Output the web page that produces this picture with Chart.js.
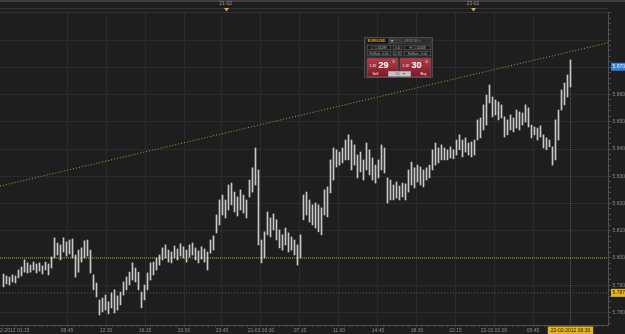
<!DOCTYPE html>
<html><head><meta charset="utf-8">
<script src="https://cdn.jsdelivr.net/npm/chart.js@4/dist/chart.umd.min.js"></script>
<style>
html,body{margin:0;padding:0;background:#1e1e1e;overflow:hidden}
#wrap{position:relative;width:625px;height:334px}
#c{position:absolute;left:0;top:0}
.w{position:absolute;left:364px;top:37px;width:138px;height:82px;transform:scale(0.5);transform-origin:0 0;background:#2a2a2a;border:2px solid #4a4a4a;box-sizing:border-box;font-family:"Liberation Sans",Arial,sans-serif;color:#bbb}
.w div{position:absolute;box-sizing:border-box;white-space:nowrap}
.hd{left:0;top:0;width:134px;height:12px;background:#3a3a3a}
.pair{left:2px;top:1px;width:44px;height:10px;background:#111;color:#e0a820;font-weight:bold;font-size:8px;line-height:10px;padding-left:3px}
.arr{left:48px;top:1px;width:10px;height:10px;background:#444;color:#ccc;font-size:7px;line-height:10px;text-align:center}
.tm{left:76px;top:1px;width:56px;height:10px;background:#2e2e2e;color:#999;font-size:7px;line-height:10px;padding-left:3px}
.cell{height:10px;border:1px solid #666;background:#1c1c1c;font-size:6.5px;line-height:8px;text-align:center;color:#bbb}
.btn{top:40px;height:38px;background:linear-gradient(#b33b49,#7a1a26);border:1px solid #c86a78;border-radius:2px;color:#fff}
.sm{font-size:7px}
.big{font-size:18px;font-weight:bold;line-height:18px}
.sup{font-size:8px}
.dd{left:46px;top:66px;width:46px;height:11px;background:#c4c4c4;border:1px solid #888;color:#555;font-size:7px;line-height:9px;padding-left:14px}
</style></head>
<body><div id="wrap"><canvas id="c" width="625" height="334"></canvas>
<div class="w">
 <div class="hd"></div>
 <div class="pair">EUR/USD</div>
 <div class="arr">▾</div>
 <div class="tm">09:37:40 ×</div>
 <div class="cell" style="left:4px;top:14px;width:48px">L: 1.30199</div>
 <div class="cell" style="left:56px;top:14px;width:18px">0.6</div>
 <div class="cell" style="left:78px;top:14px;width:54px">H: 1.32448</div>
 <div class="cell" style="left:4px;top:26px;width:48px">RoRate -0.00</div>
 <div class="cell" style="left:56px;top:26px;width:18px">0.74</div>
 <div class="cell" style="left:78px;top:26px;width:54px">RoRate -0.00</div>
 <div class="btn" style="left:4px;width:62px">
   <div class="sm" style="left:4px;top:11px">1.32</div>
   <div class="big" style="left:22px;top:3px">29</div>
   <div class="sup" style="left:50px;top:2px">5</div>
   <div class="sm" style="left:10px;top:26px">Sell</div>
 </div>
 <div class="btn" style="left:70px;width:62px">
   <div class="sm" style="left:4px;top:11px">1.32</div>
   <div class="big" style="left:22px;top:3px">30</div>
   <div class="sup" style="left:50px;top:2px">0</div>
   <div class="sm" style="left:40px;top:26px">Buy</div>
 </div>
 <div class="dd">10 &nbsp;&nbsp;&nbsp;▾</div>
</div>
</div>
<script>
// ---- data ----
const barHigh = [5.7941,5.7934,5.7930,5.7938,5.7934,5.7956,5.7967,5.7993,5.7982,5.7974,5.7985,5.7978,5.7982,5.7971,5.7985,5.7978,5.8004,5.8074,5.8055,5.8048,
5.8074,5.8059,5.8066,5.8070,5.8011,5.8029,5.8037,5.8063,5.8066,5.8029,5.7938,5.7908,5.7846,5.7853,5.7864,5.7839,5.7872,5.7883,5.7861,5.7875,
5.7912,5.7930,5.7948,5.7982,5.7963,5.7948,5.7875,5.7901,5.7945,5.7982,5.7985,5.8000,5.8011,5.8037,5.8048,5.8029,5.8022,5.8044,5.8033,5.8052,
5.8041,5.8029,5.8048,5.8055,5.8037,5.8026,5.8041,5.8033,5.8022,5.8066,5.8081,5.8158,5.8213,5.8231,5.8213,5.8268,5.8275,5.8242,5.8224,5.8250,
5.8231,5.8213,5.8286,5.8331,5.8404,5.8323,5.8066,5.8096,5.8169,5.8147,5.8162,5.8140,5.8103,5.8085,5.8110,5.8092,5.8077,5.8066,5.8048,5.8085,
5.8231,5.8242,5.8213,5.8195,5.8202,5.8195,5.8184,5.8250,5.8261,5.8360,5.8404,5.8397,5.8389,5.8404,5.8433,5.8452,5.8433,5.8415,5.8378,5.8389,
5.8360,5.8422,5.8397,5.8367,5.8341,5.8360,5.8415,5.8404,5.8294,5.8286,5.8268,5.8279,5.8264,5.8275,5.8272,5.8323,5.8352,5.8331,5.8341,5.8334,
5.8323,5.8331,5.8341,5.8397,5.8422,5.8404,5.8415,5.8404,5.8397,5.8408,5.8397,5.8433,5.8452,5.8433,5.8441,5.8422,5.8426,5.8433,5.8507,5.8514,
5.8562,5.8598,5.8635,5.8591,5.8580,5.8573,5.8562,5.8518,5.8507,5.8525,5.8514,5.8543,5.8536,5.8532,5.8562,5.8551,5.8488,5.8481,5.8477,5.8485,
5.8452,5.8441,5.8433,5.8408,5.8507,5.8543,5.8617,5.8642,5.8672,5.8727];
const barLow = [5.7894,5.7905,5.7901,5.7912,5.7908,5.7927,5.7934,5.7948,5.7945,5.7948,5.7956,5.7945,5.7952,5.7941,5.7956,5.7938,5.7963,5.8000,5.8011,5.7993,
5.8022,5.8007,5.8015,5.8000,5.7930,5.7948,5.7985,5.8000,5.8007,5.7945,5.7883,5.7857,5.7791,5.7802,5.7809,5.7795,5.7817,5.7798,5.7809,5.7828,
5.7864,5.7883,5.7901,5.7919,5.7912,5.7883,5.7817,5.7846,5.7883,5.7919,5.7938,5.7956,5.7974,5.7993,5.8000,5.7985,5.7982,5.8000,5.7993,5.8007,
5.8000,5.7985,5.8004,5.8011,5.7993,5.7982,5.7996,5.7985,5.7956,5.8018,5.8029,5.8092,5.8121,5.8158,5.8147,5.8176,5.8195,5.8169,5.8154,5.8176,
5.8165,5.8147,5.8224,5.8242,5.8268,5.8048,5.7982,5.8000,5.8085,5.8077,5.8103,5.8066,5.8037,5.8029,5.8048,5.8022,5.8029,5.8011,5.7974,5.8000,
5.8140,5.8158,5.8132,5.8121,5.8110,5.8096,5.8085,5.8158,5.8151,5.8239,5.8286,5.8334,5.8341,5.8349,5.8360,5.8360,5.8323,5.8341,5.8294,5.8316,
5.8286,5.8323,5.8305,5.8286,5.8275,5.8294,5.8323,5.8312,5.8202,5.8213,5.8213,5.8220,5.8213,5.8224,5.8213,5.8242,5.8268,5.8257,5.8279,5.8268,
5.8261,5.8286,5.8294,5.8323,5.8341,5.8349,5.8360,5.8360,5.8360,5.8367,5.8364,5.8378,5.8397,5.8371,5.8389,5.8378,5.8371,5.8378,5.8433,5.8441,
5.8470,5.8488,5.8569,5.8518,5.8525,5.8507,5.8514,5.8444,5.8452,5.8470,5.8463,5.8477,5.8470,5.8488,5.8499,5.8481,5.8441,5.8452,5.8433,5.8444,
5.8404,5.8397,5.8408,5.8341,5.8360,5.8433,5.8543,5.8562,5.8591,5.8628];

const trendX = [-1.1667, 201.5];
const trendY = [5.8264, 5.8790];
const supportLevel = 5.800;
const markerLevel = 5.7872;
const lastPrice = 5.8702;
const lastPriceLabel = '5.870';
const markerLabel = '5.787';
const priceLabels = [5.78,5.79,5.80,5.81,5.82,5.83,5.84,5.85,5.86];

const timeTickPos = [2.07,21.17,34.17,47.17,60.17,72.83,85.83,98.83,111.83,124.83,137.83,150.67,163.5,176.5];
const timeTickLabels = ['20-02-2012 01:15','08:45','12:30','16:15','20:00','23:45','21-02 03:30','07:15','11:00','14:45','18:30','22:15','22-02 02:00','05:45'];
const currentTimePos = 189;
const currentTimeLabel = '22-02-2012 06:30';
const dayTickPos = [74.03, 156.5];
const dayTickLabels = ['21-02','22-02'];

// ---- build ----
const X_MIN = -1.1667, X_MAX = 201.5, Y_MIN = 5.7754, Y_MAX = 5.8903;
const FONT = '"Liberation Sans", Arial, sans-serif';

const bars = barHigh.map((h,i)=>({x:i, y:[barLow[i], h]}));

const xLabelMap = new Map();
timeTickPos.forEach((p,i)=>xLabelMap.set(p,timeTickLabels[i]));
xLabelMap.set(currentTimePos,currentTimeLabel);
const xTickVals = [...timeTickPos, currentTimePos];
for(let k=-12;k<90;k++){
  const v = +(21.17 + k*2.15).toFixed(3);
  if(v<X_MIN||v>X_MAX) continue;
  if(xTickVals.some(t=>Math.abs(t-v)<0.8)) continue;
  xTickVals.push(v);
}
xTickVals.sort((a,b)=>a-b);
const isFirst = v => v===timeTickPos[0];
const isCur = v => v===currentTimePos;
const isMajorX = v => xLabelMap.has(v) && !isFirst(v) && !isCur(v);

const yTickVals = [];
for(let k=2888;k<=2945;k++) yTickVals.push(+(k*0.002).toFixed(3));
yTickVals.push(markerLevel, lastPrice);
yTickVals.sort((a,b)=>a-b);
const isPin = v => v===markerLevel || v===lastPrice;
const isMajorY = v => !isPin(v) && Math.abs(v*100 - Math.round(v*100))<1e-6;

const decor = {
  id:'decor',
  beforeDraw(chart){
    const c = chart.ctx; c.save();
    c.fillStyle='#1e1e1e'; c.fillRect(0,0,chart.width,chart.height);
    c.fillStyle='#3e3e3e'; c.fillRect(0,0,chart.width,2);
    c.strokeStyle='#353535'; c.lineWidth=1;
    c.beginPath(); c.moveTo(0,8.5); c.lineTo(608,8.5); c.stroke();
    c.restore();
  },
  afterDraw(chart){
    const c = chart.ctx, s = chart.scales.x2; c.save();
    c.fillStyle='#e0b020';
    dayTickPos.forEach(v=>{
      const px = Math.round(s.getPixelForValue(v))+0.5;
      c.beginPath(); c.moveTo(px-2.5,8); c.lineTo(px+2.5,8); c.lineTo(px,11.5); c.closePath(); c.fill();
    });
    c.restore();
  }
};

new Chart(document.getElementById('c'), {
  type:'bar',
  data:{datasets:[
    {type:'line', data:trendX.map((x,i)=>({x, y:trendY[i]})), borderColor:'#aaa43c', borderWidth:1, borderDash:[1,2], pointRadius:0, xAxisID:'x', yAxisID:'y', order:0},
    {type:'line', data:[{x:X_MIN,y:supportLevel},{x:X_MAX,y:supportLevel}], borderColor:'#b2a632', borderWidth:1, borderDash:[1,1], pointRadius:0, xAxisID:'x', yAxisID:'y', order:3},
    {type:'line', data:[{x:X_MIN,y:markerLevel},{x:X_MAX,y:markerLevel}], borderColor:'#5e5e5e', borderWidth:1, borderDash:[1,2], pointRadius:0, xAxisID:'x', yAxisID:'y', order:3},
    {type:'line', data:[{x:currentTimePos,y:barLow[barLow.length-1]},{x:currentTimePos,y:Y_MIN}], borderColor:'#5e5e5e', borderWidth:1, borderDash:[1,1], pointRadius:0, xAxisID:'x', yAxisID:'y', order:3},
    {type:'bar', data:bars, backgroundColor:'#c9c9c9', borderWidth:0, barThickness:1, grouped:false, xAxisID:'x', yAxisID:'y', order:1}
  ]},
  options:{
    responsive:false, animation:false, devicePixelRatio:1,
    layout:{padding:0},
    plugins:{legend:{display:false}, tooltip:{enabled:false}},
    scales:{
      x:{
        type:'linear', position:'bottom', min:X_MIN, max:X_MAX, offset:false,
        afterBuildTicks:s=>{ s.ticks = xTickVals.map(v=>({value:v})); },
        afterFit:s=>{ s.height=9; s.paddingLeft=0; s.paddingRight=0; },
        border:{color:'#505050', width:1},
        grid:{offset:false, color:c=>isMajorX(c.tick.value)?'#2b2b2b':'rgba(0,0,0,0)', tickColor:c=>(isFirst(c.tick.value)||isCur(c.tick.value))?'rgba(0,0,0,0)':'#4e4e4e', tickLength:2},
        ticks:{autoSkip:false, maxRotation:0, minRotation:0, padding:0.5, font:{family:FONT,size:5},
          color:c=>isCur(c.tick.value)?'#2a2000':'#8c8c8c',
          callback:v=>xLabelMap.get(v) ?? '',
          showLabelBackdrop:c=>isCur(c.tick.value), backdropColor:'#e2b31c', backdropPadding:{top:1,bottom:1,left:3,right:3}}
      },
      x2:{
        type:'linear', position:'top', min:X_MIN, max:X_MAX, offset:false,
        afterBuildTicks:s=>{ s.ticks = dayTickPos.map(v=>({value:v})); },
        afterFit:s=>{ s.height=12; s.paddingLeft=0; s.paddingRight=0; },
        border:{color:'#333333'},
        grid:{drawOnChartArea:false, drawTicks:false},
        ticks:{autoSkip:false, maxRotation:0, minRotation:0, padding:5, font:{family:FONT,size:5}, color:'#9a9a9a',
          callback:(v,i)=>dayTickLabels[i]}
      },
      y:{
        type:'linear', position:'right', min:Y_MIN, max:Y_MAX,
        afterBuildTicks:s=>{ s.ticks = yTickVals.map(v=>({value:v})); },
        afterFit:s=>{ s.width=17; s.paddingTop=0; s.paddingBottom=0; },
        border:{color:'#505050', width:1},
        grid:{color:c=>isMajorY(c.tick.value)?'#2b2b2b':'rgba(0,0,0,0)', tickColor:c=>isPin(c.tick.value)?'rgba(0,0,0,0)':'#4e4e4e', tickLength:3},
        ticks:{autoSkip:false, padding:1.5, font:{family:FONT,size:5},
          color:c=>c.tick.value===lastPrice?'#eaf2ff':(c.tick.value===markerLevel?'#2a2000':'#8c8c8c'),
          callback:v=>{
            if(v===lastPrice) return lastPriceLabel;
            if(v===markerLevel) return markerLabel;
            return priceLabels.some(p=>Math.abs(p-v)<1e-6) ? v.toFixed(3) : '';
          },
          showLabelBackdrop:c=>isPin(c.tick.value),
          backdropColor:c=>c.tick.value===lastPrice?'#2f80d6':'#e2b31c',
          backdropPadding:{top:1,bottom:1,left:1.5,right:2}}
      }
    }
  },
  plugins:[decor]
});
</script>
</body></html>
